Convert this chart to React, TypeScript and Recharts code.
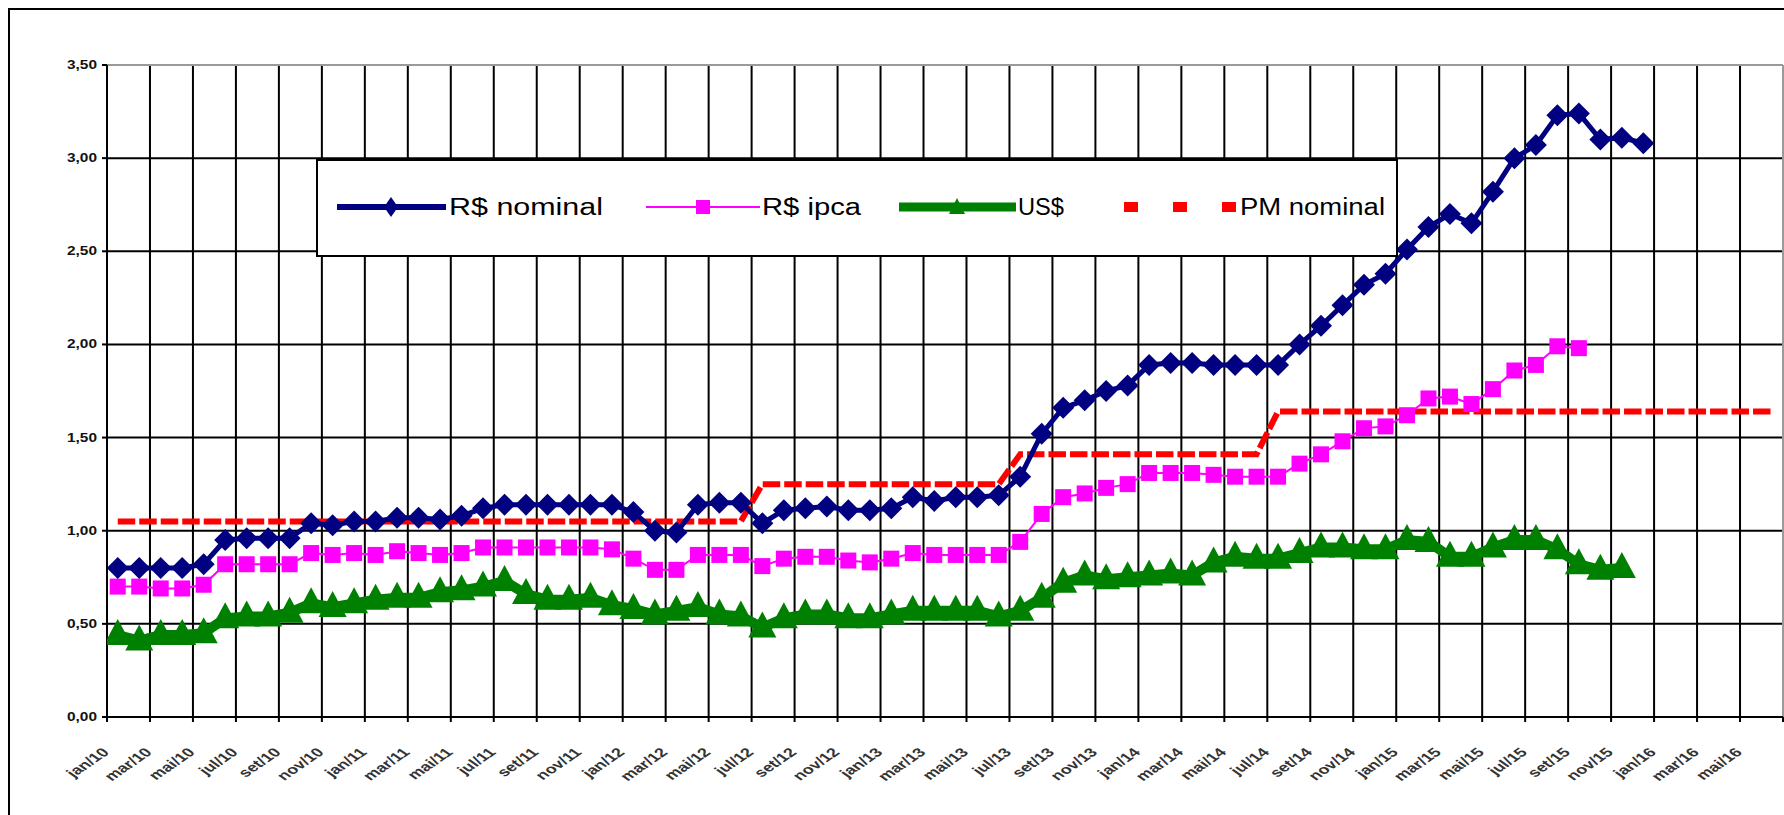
import React from 'react';
import { LineChart, Line, XAxis, YAxis, CartesianGrid, ReferenceLine } from 'recharts';

if (typeof document !== 'undefined') {
  document.body.style.margin = '0';
}

// month labels, jan/10 .. jun/16 (one per monthly band)
const MONTH_NAMES = ['jan', 'fev', 'mar', 'abr', 'mai', 'jun', 'jul', 'ago', 'set', 'out', 'nov', 'dez'];
const YEARS = ['10', '11', '12', '13', '14', '15', '16'];
const CATEGORIES: string[] = [];
YEARS.forEach(y => MONTH_NAMES.forEach(m => CATEGORIES.push(`${m}/${y}`)));
const N_MONTHS = 78;

const RS_NOMINAL = [
  0.80, 0.80, 0.80, 0.80, 0.82, 0.95, 0.96, 0.96, 0.96, 1.04,
  1.03, 1.05, 1.05, 1.07, 1.07, 1.06, 1.08, 1.12, 1.14, 1.14,
  1.14, 1.14, 1.14, 1.14, 1.10, 1.00, 0.99, 1.14, 1.15, 1.15,
  1.04, 1.11, 1.12, 1.13, 1.11, 1.11, 1.12, 1.18, 1.16, 1.18,
  1.18, 1.19, 1.29, 1.52, 1.66, 1.70, 1.75, 1.78, 1.89, 1.90,
  1.90, 1.89, 1.89, 1.89, 1.89, 2.00, 2.10, 2.21, 2.32, 2.38,
  2.51, 2.63, 2.70, 2.65, 2.82, 3.00, 3.07, 3.23, 3.24, 3.10,
  3.11, 3.08,
];

const RS_IPCA = [
  0.70, 0.70, 0.69, 0.69, 0.71, 0.82, 0.82, 0.82, 0.82, 0.88,
  0.87, 0.88, 0.87, 0.89, 0.88, 0.87, 0.88, 0.91, 0.91, 0.91,
  0.91, 0.91, 0.91, 0.90, 0.85, 0.79, 0.79, 0.87, 0.87, 0.87,
  0.81, 0.85, 0.86, 0.86, 0.84, 0.83, 0.85, 0.88, 0.87, 0.87,
  0.87, 0.87, 0.94, 1.09, 1.18, 1.20, 1.23, 1.25, 1.31, 1.31,
  1.31, 1.30, 1.29, 1.29, 1.29, 1.36, 1.41, 1.48, 1.55, 1.56,
  1.62, 1.71, 1.72, 1.68, 1.76, 1.86, 1.89, 1.99, 1.98,
];

const USD = [
  0.44, 0.41, 0.44, 0.44, 0.45, 0.53, 0.54, 0.54, 0.56, 0.61,
  0.59, 0.61, 0.63, 0.64, 0.64, 0.67, 0.68, 0.70, 0.73, 0.66,
  0.63, 0.63, 0.64, 0.60, 0.58, 0.55, 0.57, 0.59, 0.55, 0.54,
  0.48, 0.53, 0.55, 0.55, 0.53, 0.53, 0.55, 0.57, 0.57, 0.57,
  0.57, 0.54, 0.57, 0.64, 0.72, 0.76, 0.74, 0.75, 0.76, 0.77,
  0.76, 0.83, 0.86, 0.85, 0.85, 0.88, 0.91, 0.91, 0.90, 0.90,
  0.95, 0.94, 0.86, 0.86, 0.91, 0.95, 0.95, 0.90, 0.82, 0.79,
  0.80,
];

const PM_NOMINAL = [
  1.05, 1.05, 1.05, 1.05, 1.05, 1.05, 1.05, 1.05, 1.05, 1.05,
  1.05, 1.05, 1.05, 1.05, 1.05, 1.05, 1.05, 1.05, 1.05, 1.05,
  1.05, 1.05, 1.05, 1.05, 1.05, 1.05, 1.05, 1.05, 1.05, 1.05,
  1.25, 1.25, 1.25, 1.25, 1.25, 1.25, 1.25, 1.25, 1.25, 1.25,
  1.25, 1.25, 1.41, 1.41, 1.41, 1.41, 1.41, 1.41, 1.41, 1.41,
  1.41, 1.41, 1.41, 1.41, 1.64, 1.64, 1.64, 1.64, 1.64, 1.64,
  1.64, 1.64, 1.64, 1.64, 1.64, 1.64, 1.64, 1.64, 1.64, 1.64,
  1.64, 1.64, 1.64, 1.64, 1.64, 1.64, 1.64, 1.64,
];

const Y_TICKS = [0, 0.5, 1, 1.5, 2, 2.5, 3, 3.5];
const X_TICKS = Array.from({ length: N_MONTHS / 2 + 1 }, (_, i) => i * 2);

// each month sits in the middle of its band (axis "between tick marks")
const rows = CATEGORIES.slice(0, N_MONTHS).map((month, i) => ({
  x: i + 0.5,
  month,
  nominal: RS_NOMINAL[i],
  ipca: RS_IPCA[i],
  usd: USD[i],
  pm: PM_NOMINAL[i],
}));

const FONT = '"Liberation Sans", Arial, sans-serif';

const bad = (v: any) => v == null || Number.isNaN(v);

const DiamondDot = (p: any) => {
  const { cx, cy, index } = p;
  if (bad(cx) || bad(cy)) return <g key={`dm-${index}`} />;
  const r = 11;
  return (
    <polygon
      key={`dm-${index}`}
      points={`${cx},${cy - r} ${cx + r},${cy} ${cx},${cy + r} ${cx - r},${cy}`}
      fill="#000080"
    />
  );
};

const SquareDot = (p: any) => {
  const { cx, cy, index } = p;
  if (bad(cx) || bad(cy)) return <g key={`sq-${index}`} />;
  return <rect key={`sq-${index}`} x={cx - 8} y={cy - 8} width={16} height={16} fill="#FF00FF" />;
};

const TriangleDot = (p: any) => {
  const { cx, cy, index } = p;
  if (bad(cx) || bad(cy)) return <g key={`tr-${index}`} />;
  return (
    <polygon
      key={`tr-${index}`}
      points={`${cx},${cy - 16} ${cx + 14},${cy + 10} ${cx - 14},${cy + 10}`}
      fill="#008000"
    />
  );
};

const YTick = (props: any) => {
  const { x, y, payload } = props;
  const label = Number(payload.value).toFixed(2).replace('.', ',');
  return (
    <text
      x={x - 3}
      y={y + 4}
      textAnchor="end"
      fontSize={12}
      fontWeight="bold"
      fontFamily={FONT}
      fill="#111"
      textLength={30}
      lengthAdjust="spacingAndGlyphs"
    >
      {label}
    </text>
  );
};

const XTick = (props: any) => {
  const { x, y, payload } = props;
  const t = Number(payload.value);
  if (t >= N_MONTHS) return <g />;
  return (
    <g transform={`translate(${x + 3},${y + 29}) scale(1.45,1) rotate(-45)`}>
      <text x={0} y={0} textAnchor="end" fontSize={12.5} fontWeight="bold" fontFamily={FONT} fill="#333">
        {CATEGORIES[t]}
      </text>
    </g>
  );
};

const LegendBox = () => {
  const cy = 48;
  const txt = (x: number, w: number, s: string) => (
    <text
      x={x}
      y={cy + 8}
      fontSize={23}
      fontFamily={FONT}
      fill="#000"
      textLength={w}
      lengthAdjust="spacingAndGlyphs"
    >
      {s}
    </text>
  );
  return (
    <svg
      width={1082}
      height={98}
      style={{ position: 'absolute', left: 316, top: 159 }}
    >
      <rect x={1} y={1} width={1080} height={96} fill="#fff" stroke="#000" strokeWidth={2} />
      {/* R$ nominal */}
      <line x1={21} y1={cy} x2={130} y2={cy} stroke="#000080" strokeWidth={6} />
      <polygon points={`75,${cy - 10} 82,${cy} 75,${cy + 10} 68,${cy}`} fill="#000080" />
      {txt(133, 154, 'R$ nominal')}
      {/* R$ ipca */}
      <line x1={330} y1={cy} x2={444} y2={cy} stroke="#FF00FF" strokeWidth={2} />
      <rect x={380} y={cy - 7} width={14} height={14} fill="#FF00FF" />
      {txt(446, 99, 'R$ ipca')}
      {/* US$ */}
      <line x1={583} y1={cy} x2={700} y2={cy} stroke="#008000" strokeWidth={9} />
      <polygon points={`641,${cy - 9} 649,${cy + 7} 633,${cy + 7}`} fill="#008000" />
      {txt(702, 46, 'US$')}
      {/* PM nominal */}
      <rect x={808} y={cy - 5} width={14} height={10} fill="#FF0000" />
      <rect x={857} y={cy - 5} width={14} height={10} fill="#FF0000" />
      <rect x={906} y={cy - 5} width={14} height={10} fill="#FF0000" />
      {txt(924, 145, 'PM nominal')}
    </svg>
  );
};

const App: React.FC = () => {
  return (
    <div style={{ position: 'relative', width: 1784, height: 815, background: '#fff', overflow: 'hidden' }}>
      {/* outer chart frame */}
      <div
        style={{
          position: 'absolute',
          left: 8,
          top: 8,
          width: 1800,
          height: 900,
          borderLeft: '2px solid #000',
          borderTop: '2px solid #000',
        }}
      />
      <div style={{ position: 'absolute', left: 0, top: 0 }}>
        <LineChart
          width={1784}
          height={815}
          data={rows}
          margin={{ top: 65, right: 1, left: 47, bottom: 18 }}
        >
          <CartesianGrid stroke="#000" strokeWidth={2} />
          <ReferenceLine y={3.5} stroke="#9a9a9a" strokeWidth={2} />
          <ReferenceLine x={78} stroke="#9a9a9a" strokeWidth={2} />
          <XAxis
            type="number"
            dataKey="x"
            domain={[0, N_MONTHS]}
            ticks={X_TICKS}
            interval={0}
            height={80}
            tick={<XTick />}
            tickSize={5}
            axisLine={{ stroke: '#000', strokeWidth: 2 }}
            tickLine={{ stroke: '#000', strokeWidth: 2 }}
            allowDataOverflow
          />
          <YAxis
            type="number"
            domain={[0, 3.5]}
            ticks={Y_TICKS}
            interval={0}
            width={60}
            tick={<YTick />}
            tickSize={5}
            axisLine={{ stroke: '#000', strokeWidth: 2 }}
            tickLine={{ stroke: '#000', strokeWidth: 2 }}
          />
          <Line
            dataKey="pm"
            name="PM nominal"
            stroke="#FF0000"
            strokeWidth={6}
            strokeDasharray="17.5 4"
            dot={false}
            activeDot={false}
            isAnimationActive={false}
          />
          <Line
            dataKey="usd"
            name="US$"
            stroke="#008000"
            strokeWidth={10}
            dot={TriangleDot}
            activeDot={false}
            isAnimationActive={false}
          />
          <Line
            dataKey="ipca"
            name="R$ ipca"
            stroke="#FF00FF"
            strokeWidth={2}
            dot={SquareDot}
            activeDot={false}
            isAnimationActive={false}
          />
          <Line
            dataKey="nominal"
            name="R$ nominal"
            stroke="#000080"
            strokeWidth={5}
            dot={DiamondDot}
            activeDot={false}
            isAnimationActive={false}
          />
        </LineChart>
      </div>
      <LegendBox />
    </div>
  );
};

export default App;
